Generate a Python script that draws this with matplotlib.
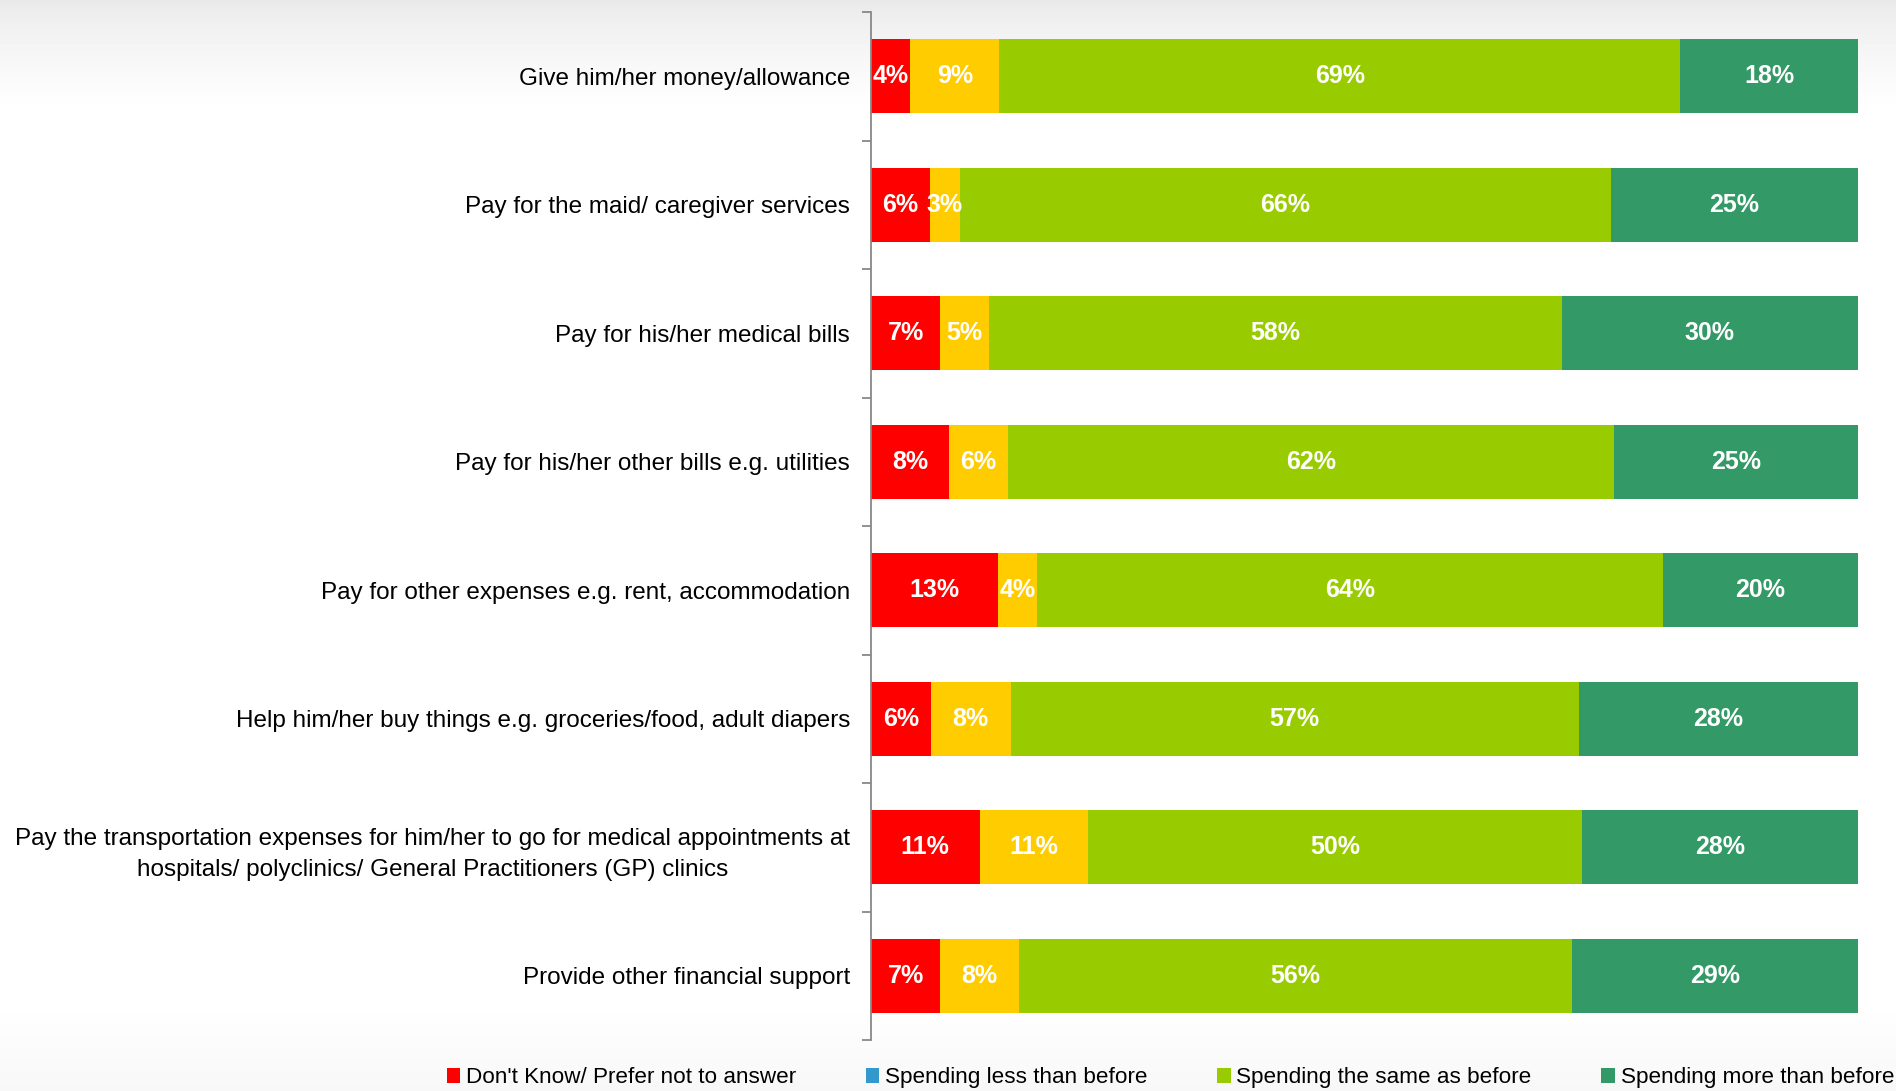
import matplotlib.pyplot as plt
import numpy as np
from matplotlib.patches import Patch

plt.rcParams["font.family"] = ["Liberation Sans", "DejaVu Sans"]

categories = [
    "Give him/her money/allowance",
    "Pay for the maid/ caregiver services",
    "Pay for his/her medical bills",
    "Pay for his/her other bills e.g. utilities",
    "Pay for other expenses e.g. rent, accommodation",
    "Help him/her buy things e.g. groceries/food, adult diapers",
    "Pay the transportation expenses for him/her to go for medical appointments at\n"
    "hospitals/ polyclinics/ General Practitioners (GP) clinics",
    "Provide other financial support",
]
dont_know = [4, 6, 7, 8, 13, 6, 11, 7]
less = [9, 3, 5, 6, 4, 8, 11, 8]
same = [69, 66, 58, 62, 64, 57, 50, 56]
more = [18, 25, 30, 25, 20, 28, 28, 29]

series = [dont_know, less, same, more]
bar_colors = ["#FF0000", "#FFCC00", "#99CC00", "#339966"]
legend_labels = [
    "Don't Know/ Prefer not to answer",
    "Spending less than before",
    "Spending the same as before",
    "Spending more than before",
]
legend_colors = ["#FF0000", "#3399CC", "#99CC00", "#339966"]

fig = plt.figure(figsize=(18.96, 10.91), dpi=100)

# soft grey gradient behind everything
bg = fig.add_axes([0, 0, 1, 1], zorder=-10)
h = 1091
top = np.arange(h)
grad = np.where(top < 110, 0.91 + 0.09 * (top / 110.0) ** 0.7, 1.0)
bot = np.clip((top - 1000) / 91.0, 0, 1)
grad = grad - 0.03 * bot
bg.imshow(np.tile(grad[:, None], (1, 10)), cmap="gray", vmin=0, vmax=1,
          aspect="auto", extent=[0, 1, 0, 1])
bg.axis("off")

ax = fig.add_axes([871 / 1896, 1 - 1040 / 1091, (1858 - 871) / 1896, (1040 - 12) / 1091])
ax.patch.set_alpha(0)

vals = np.array(series, dtype=float)
totals = vals.sum(axis=0)
y = np.arange(len(categories))
left = np.zeros(len(categories))
for vs, c in zip(vals, bar_colors):
    w = vs / totals * 100
    ax.barh(y, w, left=left, height=0.575, color=c, edgecolor="none")
    for yi, li, wi, v in zip(y, left, w, vs):
        ax.text(li + wi / 2, yi, f"{int(v)}%", ha="center", va="center",
                color="white", fontsize=18, fontweight="bold")
    left += w

ax.set_xlim(0, 100)
ax.set_ylim(len(categories) - 0.5, -0.5)
ax.set_xticks([])
ax.set_yticks(y)
ax.set_yticklabels(categories, fontsize=17.5, multialignment="center", linespacing=1.55)
ax.set_yticks(np.arange(len(categories) + 1) - 0.5, minor=True)
ax.tick_params(axis="y", which="major", length=0, pad=15)
ax.tick_params(axis="y", which="minor", length=6.5, width=1.3, color="#888888")
for s in ["top", "right", "bottom"]:
    ax.spines[s].set_visible(False)
ax.spines["left"].set_color("#888888")
ax.spines["left"].set_linewidth(1.3)

handles = [Patch(facecolor=c, edgecolor="none") for c in legend_colors]
fig.legend(handles, legend_labels, loc="center right", bbox_to_anchor=(0.999, 0.012),
           ncol=4, frameon=False, fontsize=16.2, handlelength=0.6, handleheight=0.6,
           handletextpad=0.25, columnspacing=3.1, borderpad=0, borderaxespad=0)

fig.savefig("out.png", dpi=100)
